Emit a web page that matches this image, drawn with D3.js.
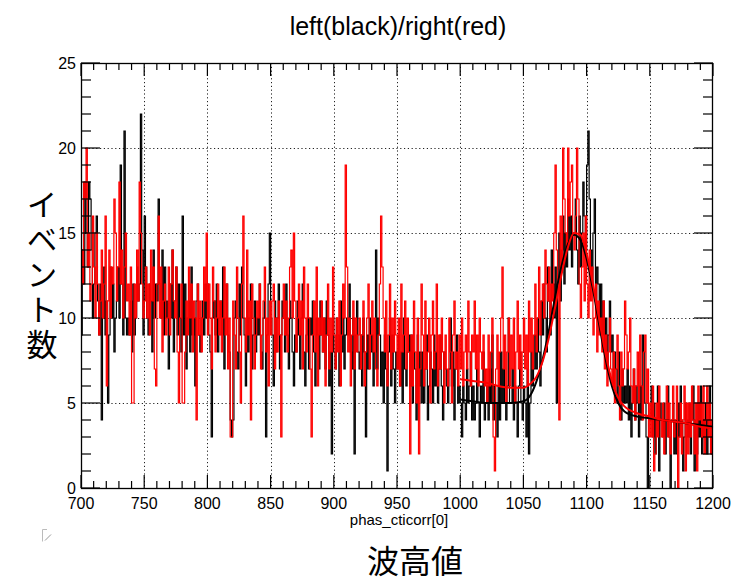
<!DOCTYPE html>
<html>
<head>
<meta charset="utf-8">
<script src="https://cdn.jsdelivr.net/npm/d3@7"></script>
<style>
  body { margin: 0; background: #fff; }
  svg { display: block; }
  text { font-family: "Liberation Sans", Arial, sans-serif; fill: #000; }
  .jp { font-family: "Noto Sans CJK JP", sans-serif; }
  .vert { writing-mode: vertical-rl; text-orientation: upright; }
</style>
</head>
<body>
<svg width="731" height="582"></svg>
<script>
const svg = d3.select('svg');

// histogram: 500 bins of width 1 from 700 to 1200
const xMin = 700;
const xMax = 1200;
const binWidth = 1;

const leftCounts = [
  9,14,12,18,15,13,18,17,14,10,   12,15,16,11,9,12,4,10,13,9,
  11,5,9,13,10,12,8,10,11,13,     10,19,12,9,21,10,9,10,9,11,
  8,12,9,10,13,11,12,22,14,9,     16,13,10,9,12,11,8,14,10,12,
  11,17,12,10,14,9,13,10,11,7,    12,10,14,8,11,13,9,12,10,8,
  16,9,12,7,10,11,8,13,9,10,      6,11,12,9,8,10,11,9,12,10,
  12,9,8,3,10,11,9,12,8,10,       11,9,13,7,10,12,9,8,4,3,
  4,10,11,8,7,12,9,13,10,9,       6,11,8,10,12,7,9,11,8,10,
  9,12,8,7,10,11,3,9,12,15,       10,9,6,11,8,10,12,7,9,11,
  10,8,12,9,7,11,10,8,6,9,        8,11,9,7,10,12,8,6,9,10,
  7,10,9,11,8,6,10,9,7,11,        9,8,10,7,11,9,6,8,2,10,
  8,7,10,9,6,11,8,10,7,9,         10,9,12,8,7,10,2,9,11,8,
  7,9,6,10,8,3,9,7,10,8,          9,6,8,14,7,10,9,6,8,5,
  9,7,1,8,10,6,9,7,5,8,           7,9,6,8,5,10,7,6,8,9,
  6,9,5,8,7,4,9,6,8,5,            8,5,7,9,4,6,8,7,5,9,
  6,8,5,7,9,6,4,8,7,6,            5,7,10,6,8,4,7,9,5,6,
  5,3,6,5,4,7,5,6,8,4,            6,4,5,7,5,3,6,5,8,4,
  5,6,4,7,5,9,4,6,5,3,            6,4,8,5,7,5,4,6,10,5,
  5,7,4,6,5,3,6,8,5,4,            6,5,3,7,2,5,8,6,7,9,
  7,10,8,6,11,9,12,10,8,13,       11,9,14,12,10,13,5,12,15,11,
  14,16,12,15,13,17,14,16,13,15,  15,17,14,12,16,13,15,18,16,14,
  19,21,17,14,12,15,17,11,13,12,  10,12,9,11,8,10,7,9,11,8,
  9,6,8,7,5,8,6,4,7,5,            6,5,7,4,6,3,5,7,4,6,
  5,3,6,4,9,8,5,3,0,4,            4,6,3,5,2,4,6,1,5,4,
  3,5,2,4,6,3,0,4,5,2,            4,2,5,3,6,4,1,3,5,4,
  3,5,2,4,6,1,4,2,5,3,            6,2,4,3,5,2,4,6,3,2
];

const rightCounts = [
  14,12,18,17,20,13,15,11,12,16,  13,10,15,12,9,11,14,10,12,16,
  6,11,14,10,13,12,17,15,11,13,   18,12,14,10,13,15,11,12,9,13,
  5,5,12,10,14,11,18,15,12,10,    11,13,10,12,9,14,11,13,7,6,
  12,16,10,13,8,11,12,9,10,13,    9,12,14,11,10,13,8,5,10,12,
  5,5,8,11,9,13,10,12,8,11,       10,4,12,9,11,8,10,13,11,15,
  9,12,10,7,13,11,8,10,12,9,      11,8,10,13,9,12,7,10,3,3,
  11,9,7,13,10,8,5,12,16,10,      8,14,9,11,4,12,10,7,9,11,
  10,12,7,9,11,13,8,10,6,11,      9,11,12,7,10,8,11,9,3,10,
  12,9,11,8,10,13,14,10,15,11,    8,10,12,9,11,7,13,10,8,12,
  10,7,3,9,11,8,13,6,10,9,        11,8,10,6,9,12,7,10,8,13,
  9,7,10,8,11,6,9,12,10,19,       13,8,10,6,9,11,7,10,8,9,
  10,7,9,11,6,8,10,12,7,9,        11,8,10,7,6,9,12,16,13,10,
  8,11,6,9,12,7,10,8,11,9,        7,10,6,12,8,9,11,7,10,8,
  2,9,6,11,8,5,10,2,7,12,         9,6,11,7,8,10,5,9,11,7,
  8,12,6,9,7,10,8,5,9,7,          6,10,8,5,9,11,7,8,6,9,
  7,10,6,8,9,7,11,8,6,9,          8,11,7,9,6,10,8,7,9,6,
  7,5,9,6,8,10,3,1,7,9,           6,8,10,13,7,9,5,8,10,6,
  9,7,10,5,8,11,7,9,6,8,          10,7,9,6,11,8,10,7,9,12,
  8,10,13,9,11,12,10,14,12,11,    13,10,12,11,15,19,14,12,4,16,
  13,20,17,15,14,20,16,18,19,15,  14,16,20,17,12,10,13,15,11,16,
  12,10,14,11,13,9,10,12,8,11,    9,10,8,11,7,9,6,8,10,7,
  6,8,5,7,9,6,4,8,6,7,            11,9,7,8,10,6,5,7,4,6,
  8,5,9,6,4,8,9,5,7,3,            5,3,6,1,2,5,3,6,4,3,
  5,2,4,6,3,5,2,4,6,3,            4,6,0,3,5,2,4,6,1,5,
  2,5,3,6,4,2,5,1,6,4,            5,3,6,2,4,6,3,5,2,4
];

// fit curves
const fitX     = [1000,1010,1020,1030,1040,1050,1055,1060,1065,1070,1075,1080,1085,1090,1095,1100,1105,1110,1115,1120,1125,1130,1140,1150,1160,1170,1180,1190,1200];
const fitLeft  = [5.2,5.1,5.0,5.0,5.0,5.1,5.4,6.2,7.5,9.2,11.2,13.0,14.3,14.9,14.6,13.5,11.7,9.6,7.6,6.0,5.0,4.5,4.2,4.1,4.0,3.9,3.8,3.7,3.6];
const fitRight = [6.4,6.3,6.2,6.0,5.9,5.9,6.1,6.5,7.4,8.8,10.6,12.5,14.1,15.0,14.9,13.8,12.0,9.9,7.9,6.3,5.3,4.8,4.4,4.2,4.0,3.9,3.8,3.6,3.5];

const xTicks = [700,750,800,850,900,950,1000,1050,1100,1150,1200];
const yTicks = [0,5,10,15,20,25];

const margin = { top: 63, right: 18, bottom: 94, left: 81 };
const width = 731, height = 582;
const plotR = width - margin.right;
const plotB = height - margin.bottom;

const x = d3.scaleLinear().domain([xMin, xMax]).range([margin.left, plotR]);
const y = d3.scaleLinear().domain([0, 25]).range([plotB, margin.top]);

// grid
const grid = svg.append('g')
    .attr('stroke', '#222')
    .attr('stroke-width', 1)
    .attr('stroke-dasharray', '1.2,2.6');
grid.selectAll('.gx').data(xTicks.slice(1, -1)).enter().append('line')
    .attr('x1', d => Math.round(x(d)) + 0.5).attr('x2', d => Math.round(x(d)) + 0.5)
    .attr('y1', margin.top).attr('y2', plotB);
grid.selectAll('.gy').data(yTicks.slice(1, -1)).enter().append('line')
    .attr('y1', d => Math.round(y(d)) + 0.5).attr('y2', d => Math.round(y(d)) + 0.5)
    .attr('x1', margin.left).attr('x2', plotR);

// histograms
const stepLine = d3.line()
    .x(d => x(d[0]))
    .y(d => y(d[1]))
    .curve(d3.curveStepAfter);

const toSteps = counts => {
  const pts = counts.map((c, i) => [xMin + i * binWidth, c]);
  pts.push([xMax, counts[counts.length - 1]]);
  return pts;
};

svg.append('path')
    .attr('d', stepLine(toSteps(leftCounts)))
    .attr('fill', 'none')
    .attr('stroke', '#000')
    .attr('stroke-width', 1.2);

svg.append('path')
    .attr('d', stepLine(toSteps(rightCounts)))
    .attr('fill', 'none')
    .attr('stroke', '#ff0000')
    .attr('stroke-width', 1.2);

// fits
const fitLine = d3.line()
    .x(d => x(d[0]))
    .y(d => y(d[1]))
    .curve(d3.curveMonotoneX);

svg.append('path')
    .attr('d', fitLine(fitX.map((v, i) => [v, fitLeft[i]])))
    .attr('fill', 'none')
    .attr('stroke', '#000')
    .attr('stroke-width', 2);

svg.append('path')
    .attr('d', fitLine(fitX.map((v, i) => [v, fitRight[i]])))
    .attr('fill', 'none')
    .attr('stroke', '#ff0000')
    .attr('stroke-width', 2);

// frame
svg.append('rect')
    .attr('x', margin.left + 0.5).attr('y', margin.top + 0.5)
    .attr('width', plotR - margin.left - 1).attr('height', plotB - margin.top)
    .attr('fill', 'none').attr('stroke', '#000').attr('stroke-width', 1.3);

// ROOT style: inward ticks on all four sides
const axes = svg.append('g').attr('stroke', '#000').attr('stroke-width', 1.2);
const xMinor = d3.range(xMin, xMax + 1, 10);
const yMinor = d3.range(0, 26, 1);

axes.selectAll('.xb').data(xMinor).enter().append('line')
    .attr('x1', d => x(d)).attr('x2', d => x(d))
    .attr('y1', plotB).attr('y2', d => plotB - (d % 50 === 0 ? 13 : 7));
axes.selectAll('.xt').data(xMinor).enter().append('line')
    .attr('x1', d => x(d)).attr('x2', d => x(d))
    .attr('y1', margin.top).attr('y2', d => margin.top + (d % 50 === 0 ? 13 : 7));
axes.selectAll('.yl').data(yMinor).enter().append('line')
    .attr('y1', d => y(d)).attr('y2', d => y(d))
    .attr('x1', margin.left).attr('x2', d => margin.left + (d % 5 === 0 ? 19 : 10));
axes.selectAll('.yr').data(yMinor).enter().append('line')
    .attr('y1', d => y(d)).attr('y2', d => y(d))
    .attr('x1', plotR).attr('x2', d => plotR - (d % 5 === 0 ? 19 : 10));

// tick labels
svg.selectAll('.xl').data(xTicks).enter().append('text')
    .attr('x', d => x(d)).attr('y', plotB + 21)
    .attr('text-anchor', 'middle')
    .attr('font-size', 16)
    .text(d => d);
svg.selectAll('.ylab').data(yTicks).enter().append('text')
    .attr('x', margin.left - 5).attr('y', d => y(d) + 6)
    .attr('text-anchor', 'end')
    .attr('font-size', 16)
    .text(d => d);

// titles
svg.append('text')
    .attr('x', 398).attr('y', 35)
    .attr('text-anchor', 'middle')
    .attr('font-size', 25)
    .text('left(black)/right(red)');

svg.append('text')
    .attr('x', 399).attr('y', plotB + 37)
    .attr('text-anchor', 'middle')
    .attr('font-size', 15)
    .text('phas_cticorr[0]');

svg.append('text')
    .attr('class', 'jp')
    .attr('x', 415).attr('y', 573)
    .attr('text-anchor', 'middle')
    .attr('font-size', 32)
    .text('波高値');

// vertical y title, one glyph per line
svg.append('text')
    .attr('class', 'jp vert')
    .attr('x', 42).attr('y', 189)
    .attr('font-size', 31)
    .attr('letter-spacing', 4)
    .text('イベント数');

// small broken-image icon below the axis
const icon = svg.append('g').attr('fill', 'none').attr('stroke', '#bbb').attr('stroke-width', 1);
icon.append('path').attr('d', 'M42.5,541.5 V529.5 H47');
icon.append('path').attr('d', 'M45,540.5 L51,534.5').attr('stroke', '#999');
</script>
</body>
</html>
